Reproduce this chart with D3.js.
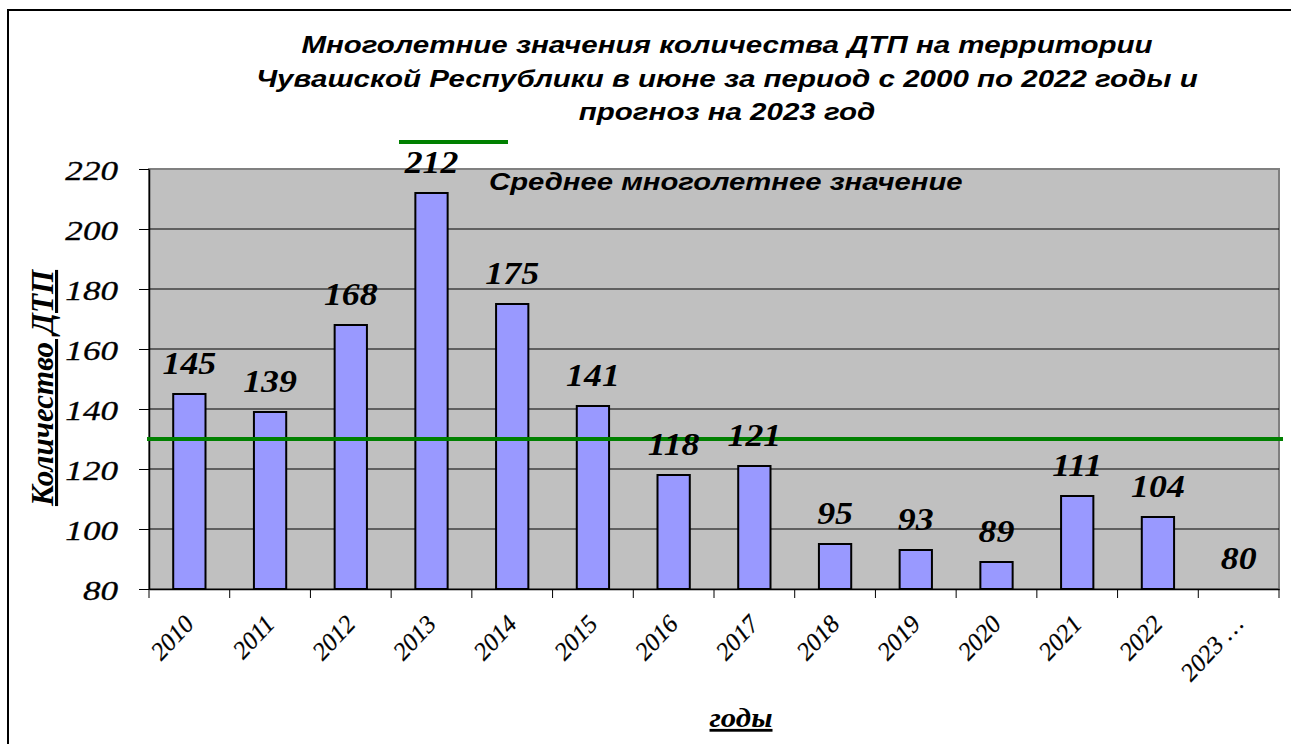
<!DOCTYPE html>
<html>
<head>
<meta charset="utf-8">
<script src="https://cdn.jsdelivr.net/npm/d3@7"></script>
<style>
  html, body { margin: 0; padding: 0; background: #fff; overflow: hidden; }
  svg { display: block; }
</style>
</head>
<body>
<svg id="chart" width="1291" height="744"></svg>
<script>
// Road accidents in Chuvashia in June, by year, plus 2023 forecast
const years = ["2010","2011","2012","2013","2014","2015","2016","2017","2018","2019","2020","2021","2022","2023 \u2026"];
const accidents = [145, 139, 168, 212, 175, 141, 118, 121, 95, 93, 89, 111, 104, 80];
const meanValue = 130;
const yTicks = [80, 100, 120, 140, 160, 180, 200, 220];
const titleLines = [
  "Многолетние значения количества ДТП на территории",
  "Чувашской Республики в июне за период с 2000 по 2022 годы и",
  "прогноз на 2023 год"
];
const legendLabel = "Среднее многолетнее значение";
const yTitle = "Количество ДТП";
const xTitle = "годы";

const W = 1291, H = 744;
const plot = { left: 149, right: 1279, top: 169, bottom: 589 };
const serif = "'Liberation Serif', 'Times New Roman', serif";
const sans = "'Liberation Sans', Arial, sans-serif";

const svg = d3.select("#chart");

// outer frame (runs off the right and bottom edges)
svg.append("rect")
  .attr("x", 8).attr("y", 10)
  .attr("width", W + 20).attr("height", H + 20)
  .attr("fill", "#fff").attr("stroke", "#000").attr("stroke-width", 2);

const x = d3.scaleBand().domain(years).range([plot.left, plot.right]).paddingInner(0).paddingOuter(0);
const y = d3.scaleLinear().domain([80, 220]).range([plot.bottom, plot.top]);

// plot background
svg.append("rect")
  .attr("x", plot.left).attr("y", plot.top)
  .attr("width", plot.right - plot.left).attr("height", plot.bottom - plot.top)
  .attr("fill", "#c0c0c0").attr("stroke", "#808080").attr("stroke-width", 2);

// horizontal gridlines
svg.append("g").selectAll("line")
  .data(yTicks.filter(v => v > 80 && v < 220))
  .join("line")
  .attr("x1", plot.left).attr("x2", plot.right)
  .attr("y1", d => y(d)).attr("y2", d => y(d))
  .attr("stroke", "#000").attr("stroke-width", 1);

// bars
const bw = x.bandwidth() * 0.4;
svg.append("g").selectAll("rect")
  .data(years.map((k, i) => ({ k, v: accidents[i] })).filter(d => d.v > 80))
  .join("rect")
  .attr("x", d => x(d.k) + (x.bandwidth() - bw) / 2)
  .attr("y", d => y(d.v))
  .attr("width", bw)
  .attr("height", d => y(80) - y(d.v))
  .attr("fill", "#9999ff").attr("stroke", "#000").attr("stroke-width", 2);

// y axis
const yAxis = svg.append("g")
  .attr("transform", `translate(${plot.left},0)`)
  .call(d3.axisLeft(y).tickValues(yTicks).tickSize(10).tickSizeOuter(0).tickFormat(d3.format("d")));
yAxis.select(".domain").attr("stroke", "#000").attr("stroke-width", 1.5);
yAxis.selectAll(".tick line").attr("stroke", "#000").attr("stroke-width", 1);
yAxis.selectAll(".tick text")
  .attr("x", null).attr("dy", null)
  .attr("transform", "translate(-31,10) scale(1.3,1)")
  .attr("text-anchor", "end")
  .attr("font-family", serif).attr("font-style", "italic")
  .attr("font-size", 27).attr("fill", "#000")
  .attr("stroke", "#000").attr("stroke-width", 0.3);

// x axis
const xAxis = svg.append("g")
  .attr("transform", `translate(0,${plot.bottom})`)
  .call(d3.axisBottom(x).tickSize(0).tickSizeOuter(0));
xAxis.select(".domain").attr("stroke", "#000").attr("stroke-width", 1.5);
xAxis.selectAll(".tick text").remove();
// category boundary ticks
xAxis.append("g").selectAll("line")
  .data(years.concat(["end"]))
  .join("line")
  .attr("x1", (d, i) => plot.left + i * x.step())
  .attr("x2", (d, i) => plot.left + i * x.step())
  .attr("y1", 0).attr("y2", 9)
  .attr("stroke", "#000").attr("stroke-width", 1);
// rotated year labels
xAxis.selectAll(".tick")
  .append("text")
  .attr("transform", "translate(6,36) rotate(-47)")
  .attr("text-anchor", "end")
  .attr("font-family", serif).attr("font-style", "italic")
  .attr("font-size", 25).attr("fill", "#000")
  .attr("stroke", "#000").attr("stroke-width", 0.2)
  .text(d => d);

// long-term mean line
svg.append("line")
  .attr("x1", plot.left - 2).attr("x2", plot.right + 4)
  .attr("y1", y(meanValue)).attr("y2", y(meanValue))
  .attr("stroke", "#008000").attr("stroke-width", 4);

// value labels
svg.append("g").selectAll("text")
  .data(years.map((k, i) => ({ k, v: accidents[i] })))
  .join("text")
  .attr("transform", d => `translate(${x(d.k) + x.bandwidth() / 2},${y(d.v) - 20}) scale(1.12,1)`)
  .attr("text-anchor", "middle")
  .attr("font-family", serif).attr("font-style", "italic").attr("font-weight", "bold")
  .attr("font-size", 32).attr("fill", "#000")
  .text(d => d.v);

// title
svg.append("g").selectAll("text")
  .data(titleLines)
  .join("text")
  .attr("transform", (d, i) => `translate(727,${53 + i * 33.5}) scale(1.23,1)`)
  .attr("text-anchor", "middle")
  .attr("font-family", sans).attr("font-style", "italic").attr("font-weight", "bold")
  .attr("font-size", 24).attr("fill", "#000")
  .text(d => d);

// legend
svg.append("line")
  .attr("x1", 399).attr("x2", 508).attr("y1", 142).attr("y2", 142)
  .attr("stroke", "#008000").attr("stroke-width", 4);
svg.append("text")
  .attr("transform", "translate(489,190) scale(1.22,1)")
  .attr("font-family", sans).attr("font-style", "italic").attr("font-weight", "bold")
  .attr("font-size", 24).attr("fill", "#000")
  .text(legendLabel);

// axis titles
svg.append("text")
  .attr("transform", "translate(53,388) rotate(-90)")
  .attr("text-anchor", "middle")
  .attr("font-family", serif).attr("font-style", "italic").attr("font-weight", "bold")
  .attr("font-size", 31).attr("fill", "#000")
  .attr("text-decoration", "underline")
  .text(yTitle);
svg.append("text")
  .attr("transform", "translate(741,727) scale(1.1,1)")
  .attr("text-anchor", "middle")
  .attr("font-family", serif).attr("font-style", "italic").attr("font-weight", "bold")
  .attr("font-size", 28).attr("fill", "#000")
  .attr("text-decoration", "underline")
  .text(xTitle);
</script>
</body>
</html>
